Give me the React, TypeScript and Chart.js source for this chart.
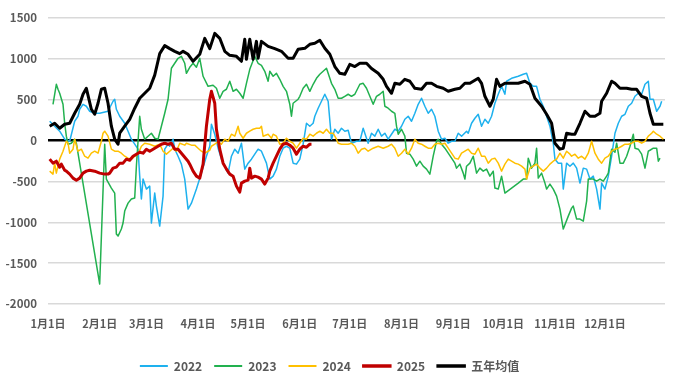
import React, { useEffect, useRef } from "react";
import { Chart, registerables } from "chart.js";

Chart.register(...registerables);

const MONTH_DAYS = [0, 31, 59, 90, 120, 151, 181, 212, 243, 273, 304, 334];
const MONTH_LABELS = ["1月1日", "2月1日", "3月1日", "4月1日", "5月1日", "6月1日", "7月1日", "8月1日", "9月1日", "10月1日", "11月1日", "12月1日"];

const SERIES_NAMES = ["2022", "2023", "2024", "2025", "五年均值"];
const COLORS = ["#1EB1EE", "#22B14F", "#FFC000", "#C00000", "#000000"];

const D22 = [1,4,7,10,13,16,18,19,21,23,25,28,31,36,39,40,41,43,46,48,50,52,54,55,56,57,59,61,62,64,65,67,69,70,72,73,75,76,78,80,82,84,86,89,92,95,97,98,100,102,104,106,108,110,112,114,116,118,120,122,124,126,128,131,133,135,137,139,141,143,145,147,149,151,153,155,157,159,160,162,164,166,168,170,172,174,176,178,180,182,185,187,189,192,194,196,198,200,202,204,206,208,210,212,214,216,218,220,222,224,226,228,230,232,234,236,238,240,242,244,246,248,251,252,254,256,258,260,262,264,266,268,270,272,274,275,278,282,285,287,289,291,293,295,297,299,301,303,304,306,308,309,311,313,315,317,319,321,323,325,327,329,331,332,334,336,338,340,342,344,346,348,350,352,354,356,358,360,361,363,365,367,368];
const V22 = [236,175,114,16,-9,236,297,382,443,419,358,333,333,358,480,505,382,297,211,114,16,-45,-106,-436,-716,-472,-594,-558,-1010,-643,-802,-1047,-680,-106,-45,-70,16,-106,-192,-289,-472,-839,-766,-594,-399,-192,-70,199,77,-94,-228,-314,-399,-192,-106,-155,-33,-350,-277,-228,-167,-106,-131,-277,-472,-436,-350,-192,-94,-70,-94,-277,-289,-228,-45,211,175,211,297,395,480,566,480,16,138,89,150,114,126,-33,-9,-9,150,-33,89,53,138,53,89,16,77,138,114,175,260,297,236,333,443,517,419,333,382,297,114,16,28,-33,-9,-9,89,53,114,89,211,272,321,175,260,211,297,456,566,663,566,725,761,786,810,822,700,663,663,505,419,297,175,-33,-228,-277,-277,-594,-277,-314,-277,-338,-521,-338,-350,-472,-436,-594,-839,-521,-594,-436,-192,89,211,297,321,419,456,541,578,566,688,725,505,505,358,419,480];

const D23 = [3,5,6,7,9,10,11,12,14,16,17,31,34,35,38,40,41,42,44,45,46,48,50,52,53,55,56,58,60,62,64,66,68,70,72,74,76,78,80,82,83,85,87,89,91,93,96,99,101,103,105,107,109,111,113,115,117,119,121,124,126,128,130,132,133,135,137,139,141,143,145,146,147,150,151,153,155,157,159,161,163,165,167,168,170,172,174,176,178,180,182,184,187,189,191,193,195,197,199,201,202,204,206,208,209,210,212,214,215,217,219,221,223,225,227,229,231,233,234,236,238,240,242,244,245,247,249,250,251,253,255,257,259,261,263,265,267,268,270,272,274,278,282,285,287,288,290,292,293,294,296,298,299,301,303,305,307,308,309,312,314,315,317,319,321,323,324,327,329,331,333,335,336,338,340,341,343,345,347,349,351,352,354,356,358,360,361,363,365,366,367];
const V23 = [443,688,627,578,443,211,53,-45,-33,16,-33,-1756,-45,-472,-582,-643,-1145,-1169,-1083,-1010,-863,-766,-716,-704,-314,297,138,16,53,89,28,16,175,333,505,884,945,1006,1030,945,822,896,945,896,1006,786,663,676,639,517,602,627,725,602,627,578,517,700,871,1030,945,920,847,725,847,786,822,749,663,602,443,297,456,505,541,639,688,602,688,761,810,847,884,822,700,627,517,517,541,566,541,566,688,700,639,541,443,541,566,602,419,395,358,333,175,77,138,53,-155,-167,-228,-314,-253,-314,-350,-411,-192,-9,16,-45,-94,-155,-216,-277,-338,-289,-399,-472,-314,-277,-192,-399,-338,-375,-350,-436,-375,-582,-594,-436,-643,-582,-521,-472,-472,-216,-338,-277,-94,-460,-399,-521,-594,-533,-594,-680,-839,-961,-1083,-925,-827,-802,-961,-961,-986,-741,-472,-472,-497,-472,-497,-436,-399,-106,-143,-33,-277,-277,-192,-70,77,-94,-106,-167,-338,-131,-119,-94,-94,-253,-216];

const D24 = [1,3,4,5,7,9,11,12,13,15,16,18,20,22,24,26,28,30,32,33,34,36,38,40,42,44,46,48,50,52,54,56,58,61,64,67,69,71,73,75,77,79,82,83,86,88,90,92,94,97,98,100,102,104,106,108,110,112,114,115,117,119,121,123,125,127,128,129,132,134,135,137,139,141,143,145,147,149,151,153,155,157,159,161,163,165,167,169,171,173,174,176,178,180,182,184,186,188,190,192,195,198,201,204,206,208,210,212,214,216,218,220,222,224,226,228,230,232,234,236,238,240,242,244,246,248,250,252,254,256,258,260,262,264,266,268,270,272,274,276,278,280,282,284,286,287,289,291,293,295,297,299,301,303,305,307,309,311,313,314,316,318,320,322,324,326,328,330,332,334,336,338,340,342,344,346,348,350,352,354,356,358,360,362,363,365,367,369];
const V24 = [-375,-411,-277,-399,-228,-131,-9,-33,-155,-106,16,-131,-106,-192,-216,-155,-131,-155,-9,89,114,53,-106,-131,-131,-155,-192,-216,-228,-192,-167,-70,-33,-45,-70,-45,-131,-167,-131,-94,-131,-33,-57,-33,-57,-57,-94,-131,-155,-119,-70,-45,-9,-45,16,-9,77,53,175,89,28,89,114,138,150,150,175,53,77,28,77,53,-45,-33,28,-9,-33,-94,-33,28,16,77,53,89,114,89,138,89,89,16,-33,-45,-45,-45,-33,-70,-155,-106,-94,-131,-94,-70,-94,-70,-45,-94,-192,-155,-106,-167,-94,16,-33,-45,-70,-94,-94,-45,-33,-45,-33,-94,-155,-216,-228,-155,-131,-106,-155,-167,-94,-192,-192,-277,-228,-216,-277,-375,-289,-228,-253,-277,-289,-314,-350,-472,-338,-314,-289,-338,-375,-338,-289,-253,-228,-155,-216,-131,-167,-192,-167,-216,-192,-228,-155,-9,-155,-228,-277,-216,-192,-131,-106,-94,-70,-45,-45,-33,-9,-9,-33,-9,53,89,114,77,53,16];

const D25 = [1,3,5,7,8,10,11,13,15,17,19,21,23,25,28,31,34,36,37,39,41,43,45,47,49,51,53,55,57,59,61,63,64,66,68,70,72,74,76,78,80,82,84,85,87,89,91,93,95,97,98,100,101,103,105,107,109,111,113,115,116,118,120,121,122,124,126,128,130,132,133,135,137,139,141,143,145,147,149,151,153,155,157,158];
const V25 = [-228,-277,-253,-326,-289,-363,-375,-411,-460,-485,-460,-399,-375,-363,-375,-399,-411,-411,-399,-338,-326,-277,-277,-228,-241,-192,-167,-143,-155,-106,-131,-106,-94,-70,-45,-33,-45,-33,-106,-106,-155,-204,-253,-289,-375,-436,-460,-289,175,505,602,456,138,-106,-277,-350,-411,-436,-558,-631,-521,-497,-485,-338,-460,-436,-448,-472,-533,-460,-375,-277,-192,-106,-45,-33,-57,-94,-167,-106,-70,-82,-45,-45];

const DAVG = [1,4,7,10,13,16,19,21,23,26,28,30,32,34,36,38,40,42,43,46,49,52,55,58,61,64,67,70,73,76,79,81,84,87,91,94,97,100,103,106,109,113,116,118,119,121,123,125,126,128,132,136,140,144,147,150,154,157,160,163,166,169,172,175,178,181,184,187,191,194,198,201,203,206,208,211,214,217,220,224,227,230,233,237,240,244,247,250,253,255,258,260,262,265,267,269,271,274,278,282,286,289,292,296,299,302,304,307,309,311,314,316,319,322,325,328,331,332,335,338,340,343,347,350,353,356,359,361,363,366,369];
const VAVG = [175,211,150,199,211,333,443,565,639,382,321,456,627,639,456,175,16,-45,89,175,260,395,517,578,639,800,1063,1161,1124,1091,1063,1091,1055,969,1055,1250,1124,1311,1250,1091,1042,1030,969,1238,994,1238,994,1213,1006,1213,1152,1124,1091,1006,1006,1116,1128,1177,1189,1226,1128,1055,905,822,810,932,905,945,945,881,822,749,663,578,700,688,749,725,639,627,700,700,663,639,602,627,639,700,700,725,761,700,541,419,505,749,663,700,700,700,725,688,517,419,321,211,-33,-106,-94,89,77,77,211,358,297,297,333,480,578,725,700,639,639,627,627,541,517,333,199,199,199];

const SERIES_DAYS = [D22, D23, D24, D25, DAVG];
const SERIES_VALUES = [V22, V23, V24, V25, VAVG];
const LINE_WIDTHS = [1.5, 1.5, 1.5, 3, 3];
const DRAW_ORDER = [5, 4, 3, 2, 1];

const LEGEND_DX = -3;
const LEGEND_DY = 12;

const legendShift = {
  id: "legendShift",
  afterLayout(chart: any) {
    const l = chart.legend;
    if (!l) return;
    l.left += LEGEND_DX;
    l.right += LEGEND_DX;
    l.top += LEGEND_DY;
    l.bottom += LEGEND_DY;
  },
};

export default function App() {
  const ref = useRef<HTMLCanvasElement | null>(null);

  useEffect(() => {
    if (!ref.current) return;
    const datasets = SERIES_NAMES.map((name, i) => ({
      label: name,
      data: SERIES_DAYS[i].map((d, j) => ({ x: d, y: SERIES_VALUES[i][j] })),
      borderColor: COLORS[i],
      backgroundColor: COLORS[i],
      borderWidth: LINE_WIDTHS[i],
      pointRadius: 0,
      tension: 0,
      fill: false,
      order: DRAW_ORDER[i],
      borderJoinStyle: "round" as const,
    }));
    const font = "'Noto Sans CJK SC', 'Noto Sans', sans-serif";
    const chart = new Chart(ref.current, {
      type: "line",
      data: { datasets },
      plugins: [legendShift],
      options: {
        animation: false,
        responsive: false,
        devicePixelRatio: 1,
        layout: { padding: { top: 15, right: 8, bottom: 11, left: 0 } },
        scales: {
          x: {
            type: "linear",
            min: 0,
            max: 370,
            grid: { display: false, drawTicks: false },
            border: { display: false },
            afterBuildTicks: (s: any) => {
              s.ticks = MONTH_DAYS.map((v) => ({ value: v }));
            },
            afterFit: (s: any) => {
              s.height = 32;
            },
            ticks: {
              autoSkip: false,
              maxRotation: 0,
              padding: 13,
              color: "#595959",
              font: { family: font, size: 11, weight: "bold" },
              callback: (_v: any, i: number) => MONTH_LABELS[i],
            },
          },
          y: {
            min: -2000,
            max: 1500,
            border: { display: false },
            afterFit: (s: any) => {
              s.width = 48;
            },
            grid: {
              drawTicks: false,
              color: (ctx: any) => (ctx.tick && ctx.tick.value === 0 ? "#000000" : "#D9D9D9"),
              lineWidth: (ctx: any) => (ctx.tick && ctx.tick.value === 0 ? 2.5 : 1.5),
            },
            ticks: {
              stepSize: 500,
              padding: 11,
              color: "#595959",
              font: { family: font, size: 11.5, weight: "bold" },
              callback: (v: any) => String(v),
            },
          },
        },
        plugins: {
          tooltip: { enabled: false },
          legend: {
            position: "bottom",
            labels: {
              boxWidth: 28,
              boxHeight: 2,
              padding: 12,
              color: "#595959",
              font: { family: font, size: 12, weight: "bold" },
              generateLabels: (c: any) =>
                c.data.datasets.map((ds: any, i: number) => ({
                  text: ds.label,
                  fillStyle: ds.borderColor,
                  strokeStyle: ds.borderColor,
                  lineWidth: i >= 3 ? 1.5 : 0,
                  hidden: false,
                  datasetIndex: i,
                  fontColor: "#595959",
                })),
            },
          },
        },
      },
    } as any);
    return () => chart.destroy();
  }, []);

  return (
    <div style={{ position: "fixed", left: 0, top: 0, width: 673, height: 381, background: "#fff" }}>
      <canvas ref={ref} width={673} height={381} style={{ width: 673, height: 381 }} />
    </div>
  );
}
